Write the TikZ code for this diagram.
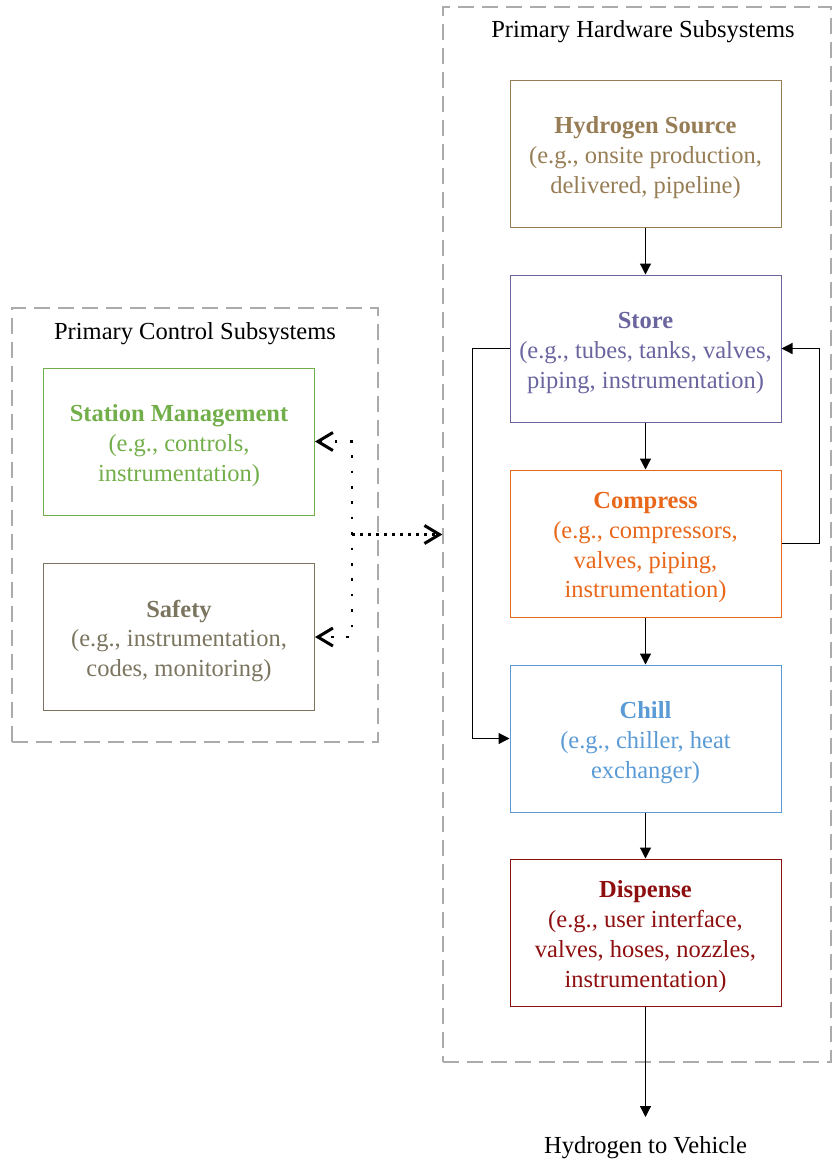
\documentclass[tikz,border=0pt]{standalone}
\usepackage{fontspec}
\setmainfont{Liberation Serif}
\usetikzlibrary{arrows.meta}

\definecolor{srcC}{HTML}{977D55}
\definecolor{storeC}{HTML}{6A659E}
\definecolor{compC}{HTML}{E8671A}
\definecolor{chillC}{HTML}{5B9BD5}
\definecolor{dispC}{HTML}{8E0F0F}
\definecolor{smC}{HTML}{72AE4A}
\definecolor{safeC}{HTML}{7B7560}
\definecolor{groupC}{HTML}{ABABAB}

% centred block of lines, set a little lower than the box centre
\newcommand\unitlines[1]{\raisebox{-4pt}[\height][\depth]{%
  \begin{tabular}{@{}c@{}}#1\end{tabular}}}

\tikzset{
  txt/.style={font=\fontsize{24.5}{29.7}\selectfont},
  unit/.style={txt, draw=#1, text=#1, line width=1pt, minimum width=271pt,
    minimum height=147pt, inner sep=0pt},
  group/.style={draw=groupC, line width=1.3pt, dash pattern=on 16pt off 8pt,
    inner sep=0pt},
  flow/.style={line width=1.2pt, -{Triangle[length=11pt,width=11pt]}},
  vdots/.style={line width=2.6pt, dash pattern=on 2.6pt off 12.8pt},
  hdots/.style={line width=2.6pt, dash pattern=on 2.6pt off 5.4pt},
  barb/.tip={Straight Barb[length=15pt,width=18pt,line width=3pt]},
}

\begin{document}
\begin{tikzpicture}[x=1pt,y=-1pt]
\useasboundingbox (0,0) rectangle (835,1160);

% subsystem groups
\node[group, minimum width=388pt, minimum height=1055pt] (hw) at (637,534.5) {};
\node[group, minimum width=366pt, minimum height=434pt] (ctl) at (195,525) {};
\node[txt, anchor=base] (hwt) at (643,37) {Primary Hardware Subsystems};
\node[txt, anchor=base] (ctlt) at (195,339) {Primary Control Subsystems};

% hardware chain
\node[unit=srcC] (src) at (645.5,153.5)
  {\unitlines{\textbf{Hydrogen Source}\\(e.g., onsite production,\\delivered, pipeline)}};
\node[unit=storeC] (store) at (645.5,348.5)
  {\unitlines{\textbf{Store}\\(e.g., tubes, tanks, valves,\\piping, instrumentation)}};
\node[unit=compC] (comp) at (645.5,543.5)
  {\unitlines{\textbf{Compress}\\(e.g., compressors,\\valves, piping,\\instrumentation)}};
\node[unit=chillC] (chill) at (645.5,738.5)
  {\unitlines{\textbf{Chill}\\(e.g., chiller, heat\\exchanger)}};
\node[unit=dispC] (disp) at (645.5,932.5)
  {\unitlines{\textbf{Dispense}\\(e.g., user interface,\\valves, hoses, nozzles,\\instrumentation)}};

% control units
\node[unit=smC] (sm) at (179,441.5)
  {\unitlines{\textbf{Station Management}\\(e.g., controls,\\instrumentation)}};
\node[unit=safeC] (sf) at (179,637)
  {\unitlines{\textbf{Safety}\\(e.g., instrumentation,\\codes, monitoring)}};

% output
\coordinate (outtip) at (645.5,1117);
\node[txt, anchor=base] (out) at (645.5,1153) {Hydrogen to Vehicle};

% main flow
\draw[flow] (src) -- (store);
\draw[flow] (store) -- (comp);
\draw[flow] (comp) -- (chill);
\draw[flow] (chill) -- (disp);
\draw[flow] (disp) -- (outtip);

% bypass and recirculation loops
\draw[flow] (store.west) -- ++(-37,0) |- (chill.west);
\draw[flow] (comp.east) -- ++(38,0) |- (store.east);

% control links
\coordinate (jx) at (352,0);
\draw[vdots, {barb}-{barb}] (sm.east) -- (sm.east -| jx) -- (sf.east -| jx) -- (sf.east);
\draw[hdots, -{barb}] (jx |- hw.west) -- (hw.west);
\end{tikzpicture}
\end{document}
